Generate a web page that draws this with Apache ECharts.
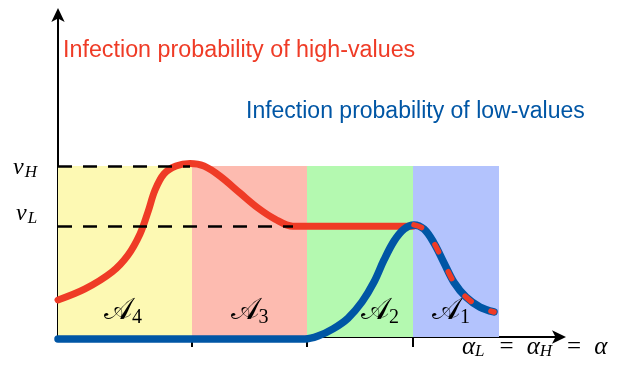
<!DOCTYPE html>
<html>
<head>
<meta charset="utf-8">
<script src="https://cdn.jsdelivr.net/npm/echarts@6/dist/echarts.min.js"></script>
<style>html,body{margin:0;padding:0;background:#fff}#c{width:620px;height:369px}</style>
</head>
<body>
<div id="c"></div>
<script>
// ---- data (abstract units: x 0..100, y 0..100) ----
const regionBounds = [0, 26.8, 49.8, 71, 88.2];
const regionLabels = ['4', '3', '2', '1'];
const vH = 52.6;
const vL = 34.1;
const vHDashEnd = 26.4;
const vLDashEnd = 47;
const highX = [0, 5.4, 10.8, 14, 16.4, 18, 19.4, 21.2, 23.6, 26.4, 29.2, 32.4, 36.4, 40, 43.4, 47, 71];
const highY = [11.4, 14.8, 20, 25.2, 31.7, 38.5, 45.2, 50.2, 52.6, 53.4, 52.6, 49.5, 44.3, 39.7, 36.3, 34.1, 34.1];
const lowX = [0, 49.4, 52, 55, 58, 60.8, 63.2, 65.2, 67.2, 69.2, 71.2, 73.2, 75.2, 77.2, 79.2, 81.6, 84.4, 87.2];
const lowY = [-0.6, -0.6, 0.3, 2.5, 5.8, 10.8, 16.9, 23.7, 29.5, 33.2, 34.5, 33.2, 28.9, 22.8, 16.8, 12.3, 9.2, 7.7];
const tickValues = [26.8, 49.8, 71];

// ---- styles ----
const RED = '#ef3b26', BLUE = '#0056a5';
const regionColors = ['#fdf9b3', '#fdbbb0', '#b4f9b0', '#b3c3fd'];
const labelOffsets = [[-2, 0], [0, 0], [20, 0], [-5, 0]];

const pairs = (xs, ys) => xs.map((x, i) => [x, ys[i]]);
const highData = pairs(highX, highY);
const lowData = pairs(lowX, lowY);
const lowTail = lowData.filter(p => p[0] >= 71);

const areaData = regionLabels.map((lab, i) => [
  { xAxis: regionBounds[i], yAxis: 0,
    itemStyle: { color: regionColors[i] },
    label: { show: true, position: 'insideBottom', distance: 9, offset: labelOffsets[i],
      formatter: '{a|𝒜}{s|' + lab + '}',
      rich: {
        a: { fontFamily: 'DejaVu Serif, Noto Sans, serif', fontSize: 30, color: '#000' },
        s: { fontFamily: 'Liberation Serif, serif', fontSize: 20, color: '#000', verticalAlign: 'bottom', padding: [14, 0, 0, 0] }
      } } },
  { xAxis: regionBounds[i + 1], yAxis: vH }
]);

const chart = echarts.init(document.getElementById('c'), null, { renderer: 'canvas' });
chart.setOption({
  animation: false,
  grid: { left: 58, right: 62, top: 12, bottom: 32 },
  xAxis: {
    type: 'value', min: 0, max: 100,
    splitLine: { show: false },
    axisLine: { show: true, onZero: true, symbol: ['none', 'arrow'], symbolSize: [10, 14], symbolOffset: [0, 8], lineStyle: { color: '#000', width: 2 } },
    axisTick: { show: true, customValues: tickValues, length: 10, lineStyle: { color: '#000', width: 2 } },
    axisLabel: { show: false }
  },
  yAxis: {
    type: 'value', min: 0, max: 100,
    splitLine: { show: false },
    axisLine: { show: true, symbol: ['none', 'arrow'], symbolSize: [10, 14], symbolOffset: [0, 4], lineStyle: { color: '#000', width: 2 } },
    axisTick: { show: false },
    axisLabel: { show: false }
  },
  series: [
    {
      type: 'line', data: [], z: 1, silent: true,
      markArea: { silent: true, data: areaData },
      markLine: {
        silent: true, symbol: 'none', label: { show: false },
        lineStyle: { color: '#000', width: 2.6, type: [14, 11] },
        data: [
          [{ coord: [0, vH] }, { coord: [vHDashEnd, vH] }],
          [{ coord: [0, vL] }, { coord: [vLDashEnd, vL] }]
        ]
      }
    },
    {
      name: 'high', type: 'line', data: highData, z: 2, smooth: 0.35, showSymbol: false, clip: false,
      lineStyle: { color: RED, width: 7, cap: 'round', join: 'round' }
    },
    {
      name: 'low', type: 'line', data: lowData, z: 3, smooth: 0.35, showSymbol: false, clip: false,
      lineStyle: { color: BLUE, width: 7.5, cap: 'round', join: 'round' }
    },
    {
      name: 'highTail', type: 'line', data: lowTail, z: 4, smooth: 0.35, showSymbol: false, clip: false,
      lineStyle: { color: RED, width: 5.5, cap: 'round', type: [8, 22] }
    }
  ],
  graphic: [
    { type: 'text', left: 63, top: 39, style: { text: 'Infection probability of high-values', fill: RED, font: '23.3px "Liberation Sans", Arial, sans-serif' } },
    { type: 'text', left: 246, top: 100, style: { text: 'Infection probability of low-values', fill: BLUE, font: '23px "Liberation Sans", Arial, sans-serif' } },
    { type: 'text', left: 13, top: 156, style: { text: '{v|v}{s|H}', rich: { v: { font: 'italic 24px "Liberation Serif", serif', fill: '#000' }, s: { font: 'italic 17px "Liberation Serif", serif', fill: '#000', padding: [10, 0, 0, 1] } } } },
    { type: 'text', left: 16, top: 202, style: { text: '{v|v}{s|L}', rich: { v: { font: 'italic 24px "Liberation Serif", serif', fill: '#000' }, s: { font: 'italic 17px "Liberation Serif", serif', fill: '#000', padding: [10, 0, 0, 1] } } } },
    { type: 'text', left: 462, top: 335, style: { text: '{a|α}{s|L}{e|=}{a|α}{s|H}{e|=}{a|α}', rich: { a: { font: 'italic 25px "Liberation Serif", serif', fill: '#000' }, s: { font: 'italic 17px "Liberation Serif", serif', fill: '#000', padding: [9, 0, 0, 0] }, e: { font: '25px "Liberation Serif", serif', fill: '#000', padding: [0, 13, 0, 15] } } } }
  ]
});
</script>
</body>
</html>
